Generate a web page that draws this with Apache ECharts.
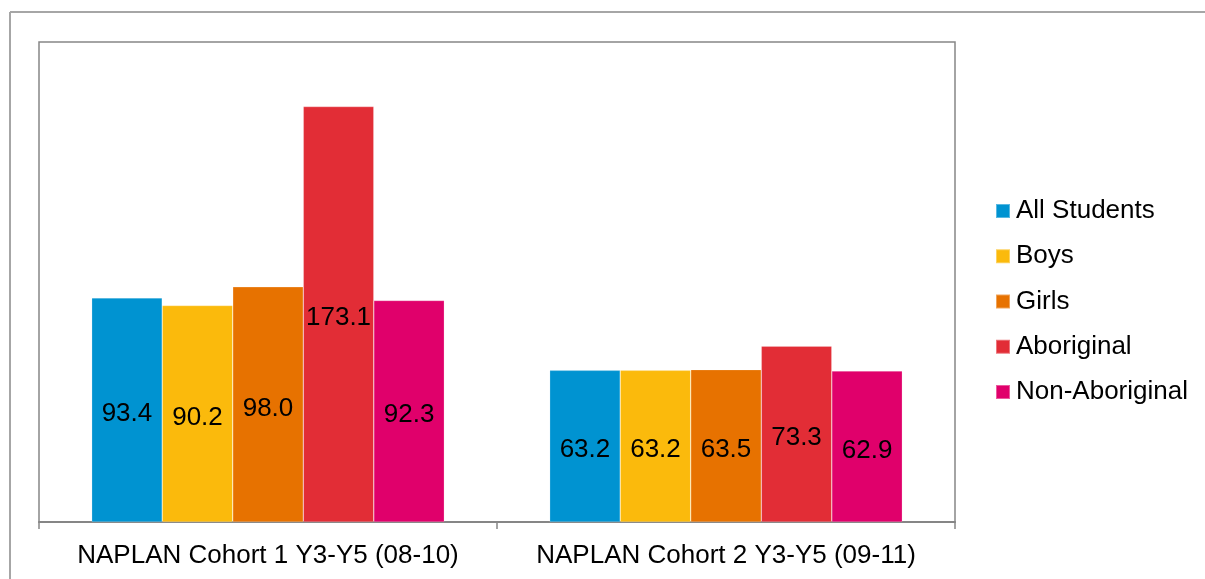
<!DOCTYPE html>
<html><head><meta charset="utf-8">
<script src="https://cdn.jsdelivr.net/npm/echarts@6/dist/echarts.min.js"></script>
<style>html,body{margin:0;padding:0;background:#fff}#c{width:1205px;height:579px}</style>
</head><body><div id="c"></div>
<script>
const categories = ['NAPLAN Cohort 1 Y3-Y5 (08-10)', 'NAPLAN Cohort 2 Y3-Y5 (09-11)'];
const seriesNames = ['All Students', 'Boys', 'Girls', 'Aboriginal', 'Non-Aboriginal'];
const allStudents = [93.4, 63.2];
const boys = [90.2, 63.2];
const girls = [98.0, 63.5];
const aboriginal = [173.1, 73.3];
const nonAboriginal = [92.3, 62.9];
const colors = ['#0093D1', '#FBBA0C', '#E77200', '#E22D36', '#E0006B'];
const values = [allStudents, boys, girls, aboriginal, nonAboriginal];

const chart = echarts.init(document.getElementById('c'));
chart.setOption({
  animation: false,
  textStyle: { fontFamily: 'Liberation Sans, Arial, sans-serif' },
  graphic: [
    { type: 'line', shape: { x1: 10, y1: 12, x2: 1205, y2: 12 }, style: { stroke: '#a6a6a6', lineWidth: 2 } },
    { type: 'line', shape: { x1: 10, y1: 12, x2: 10, y2: 579 }, style: { stroke: '#a6a6a6', lineWidth: 2 } }
  ],
  grid: { left: 39, top: 42, right: 250, bottom: 57, show: true, borderColor: '#868686', borderWidth: 1.5, containLabel: false },
  legend: {
    orient: 'vertical', left: 990, top: 193, itemGap: 19.25, itemWidth: 14, itemHeight: 14, icon: 'rect',
    textStyle: { fontSize: 26, color: '#000', padding: [0, 0, 0, 1] },
    data: seriesNames
  },
  xAxis: {
    type: 'category', data: categories,
    axisLine: { lineStyle: { color: '#868686', width: 2 } },
    axisTick: { show: true, interval: 0, length: 7, lineStyle: { color: '#868686', width: 1.5 } },
    axisLabel: { interval: 0, fontSize: 26, color: '#000', margin: 21 }
  },
  yAxis: {
    type: 'value', min: 0, max: 200, interval: 50,
    axisLine: { show: false }, axisTick: { show: false }, axisLabel: { show: false }, splitLine: { show: false }
  },
  series: seriesNames.map((n, i) => ({
    name: n, type: 'bar', data: values[i], barGap: '0%', barCategoryGap: '23%',
    itemStyle: { color: colors[i], borderColor: 'rgba(255,255,255,0.35)', borderWidth: 0.6 },
    label: { show: true, position: 'inside', offset: [0, 4], fontSize: 26, color: '#000', formatter: p => p.value.toFixed(1) }
  }))
});
</script></body></html>
